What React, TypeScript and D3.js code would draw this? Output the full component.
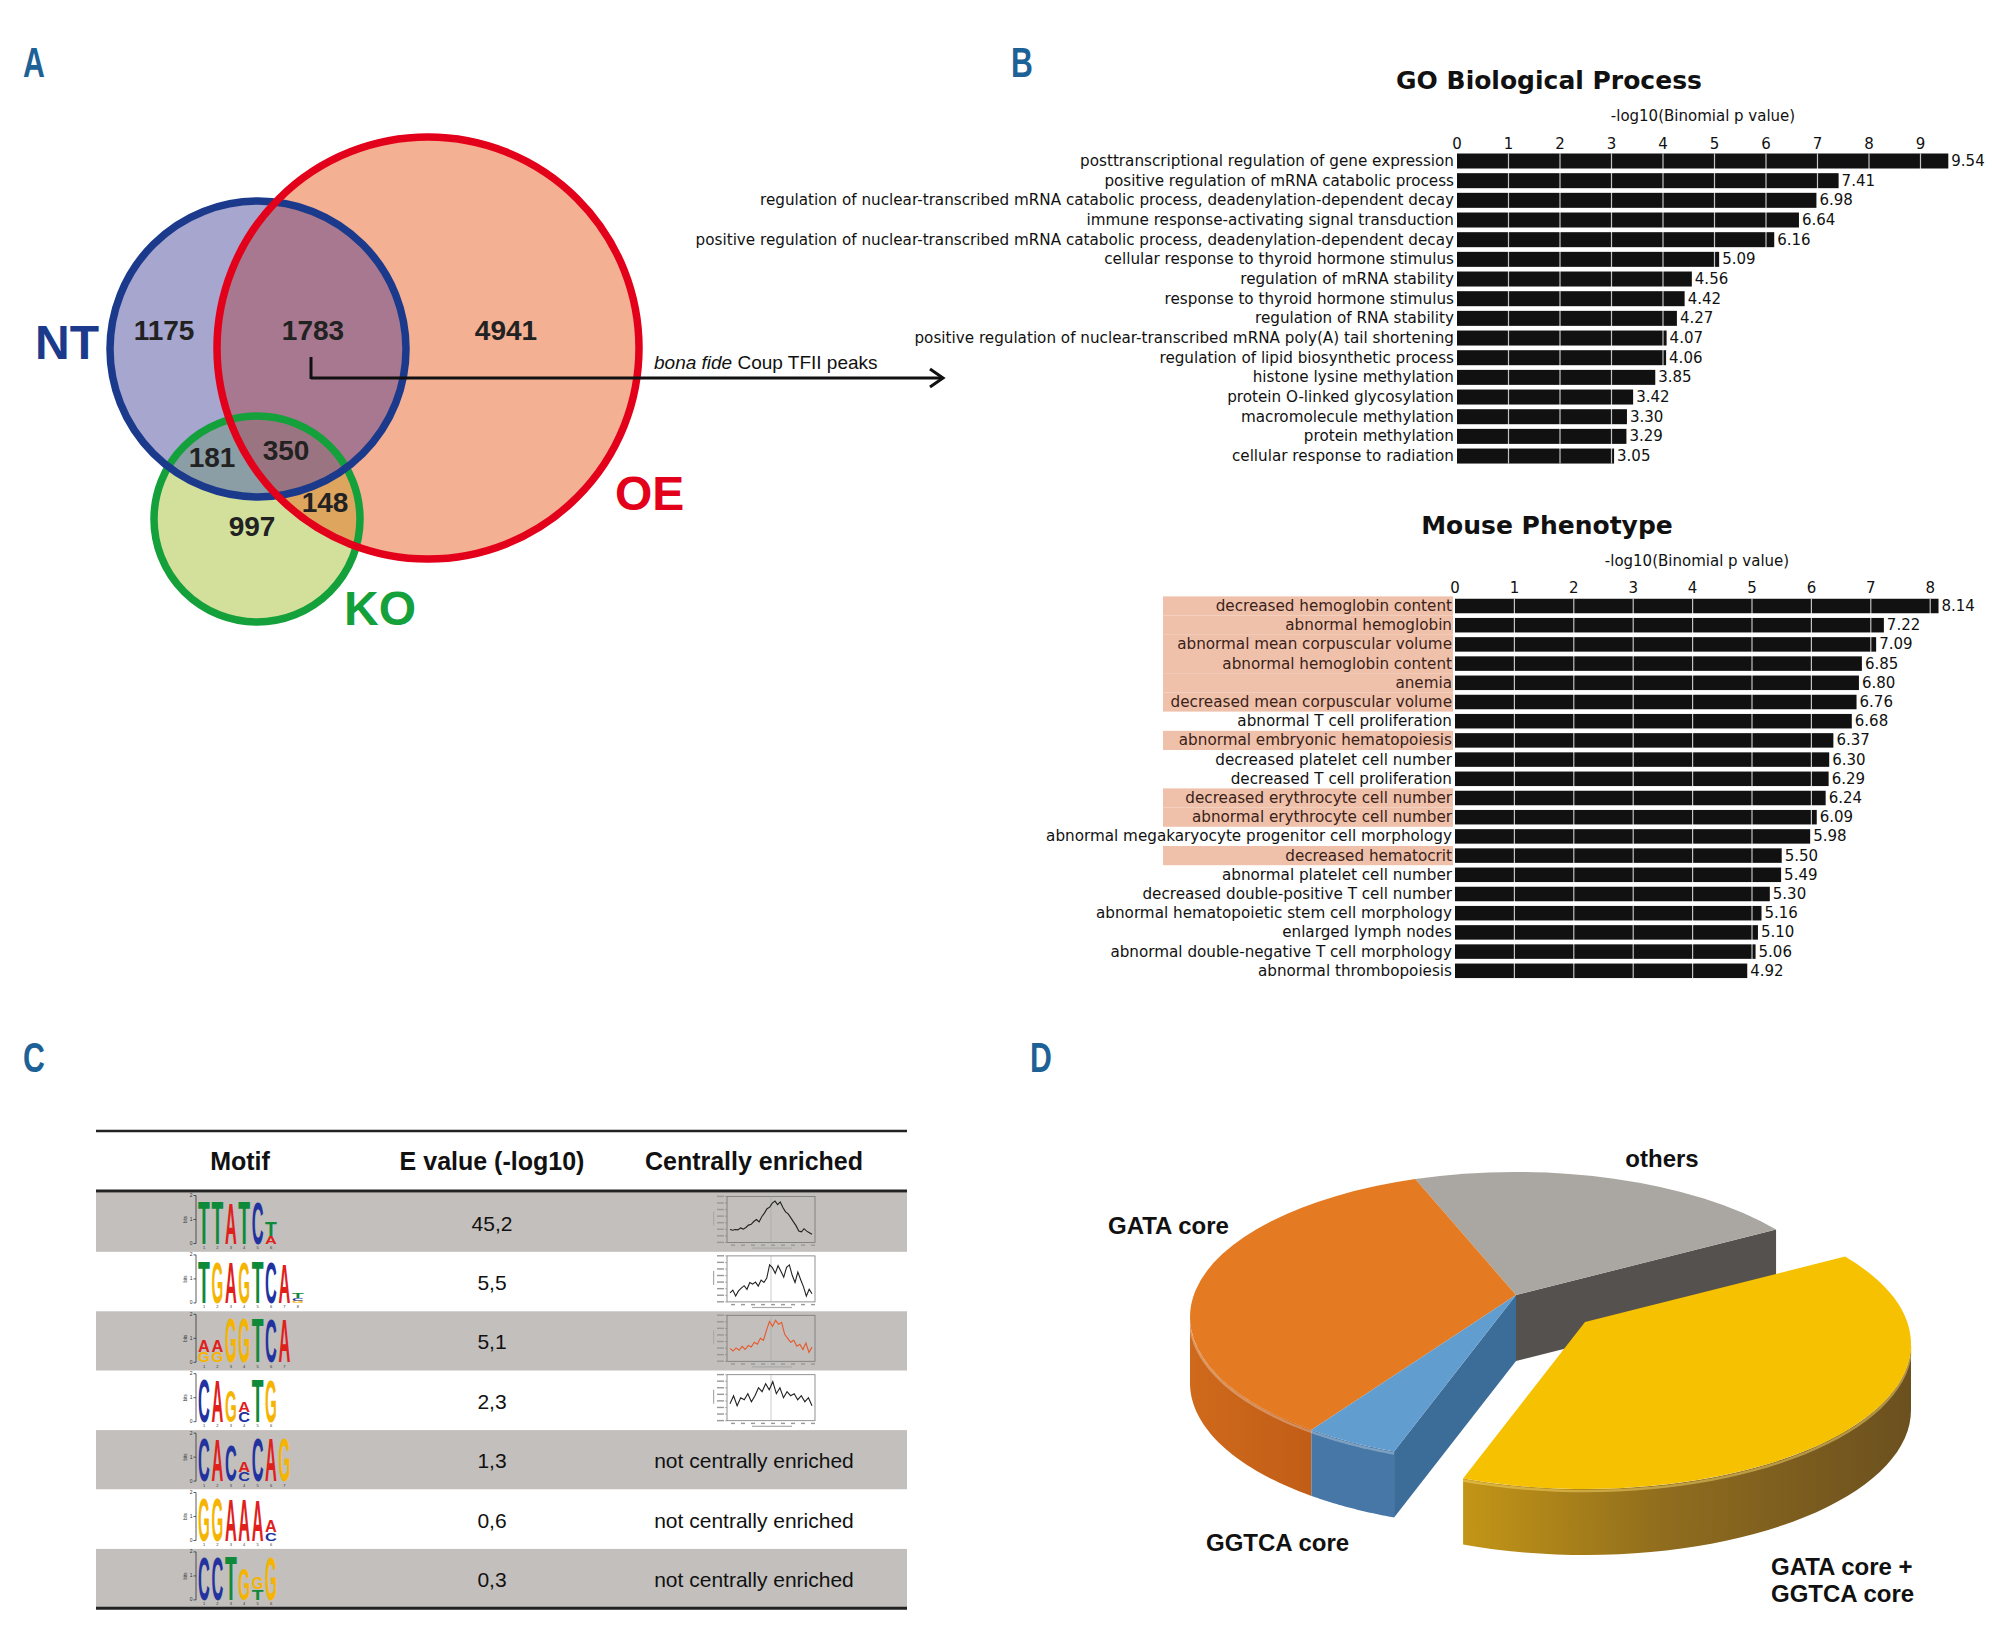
import { useEffect } from 'react'
import * as d3 from 'd3'

// ---------- panel A : Venn ----------
const vennNames = ['NT', 'OE', 'KO']
const vennColors = ['#1b3a8c', '#e3001b', '#14a03a']
// NT only, NT∩OE, OE only, NT∩KO, NT∩OE∩KO, OE∩KO, KO only
const vennCounts = [1175, 1783, 4941, 181, 350, 148, 997]

// ---------- panel B : GREAT enrichment ----------
const goTerms = [
  'posttranscriptional regulation of gene expression',
  'positive regulation of mRNA catabolic process',
  'regulation of nuclear-transcribed mRNA catabolic process, deadenylation-dependent decay',
  'immune response-activating signal transduction',
  'positive regulation of nuclear-transcribed mRNA catabolic process, deadenylation-dependent decay',
  'cellular response to thyroid hormone stimulus',
  'regulation of mRNA stability',
  'response to thyroid hormone stimulus',
  'regulation of RNA stability',
  'positive regulation of nuclear-transcribed mRNA poly(A) tail shortening',
  'regulation of lipid biosynthetic process',
  'histone lysine methylation',
  'protein O-linked glycosylation',
  'macromolecule methylation',
  'protein methylation',
  'cellular response to radiation',
]
const goValues = [9.54, 7.41, 6.98, 6.64, 6.16, 5.09, 4.56, 4.42, 4.27, 4.07, 4.06, 3.85, 3.42, 3.3, 3.29, 3.05]
const goTicks = [0, 1, 2, 3, 4, 5, 6, 7, 8, 9]

const mpTerms = [
  'decreased hemoglobin content',
  'abnormal hemoglobin',
  'abnormal mean corpuscular volume',
  'abnormal hemoglobin content',
  'anemia',
  'decreased mean corpuscular volume',
  'abnormal T cell proliferation',
  'abnormal embryonic hematopoiesis',
  'decreased platelet cell number',
  'decreased T cell proliferation',
  'decreased erythrocyte cell number',
  'abnormal erythrocyte cell number',
  'abnormal megakaryocyte progenitor cell morphology',
  'decreased hematocrit',
  'abnormal platelet cell number',
  'decreased double-positive T cell number',
  'abnormal hematopoietic stem cell morphology',
  'enlarged lymph nodes',
  'abnormal double-negative T cell morphology',
  'abnormal thrombopoiesis',
]
const mpValues = [8.14, 7.22, 7.09, 6.85, 6.8, 6.76, 6.68, 6.37, 6.3, 6.29, 6.24, 6.09, 5.98, 5.5, 5.49, 5.3, 5.16, 5.1, 5.06, 4.92]
const mpTicks = [0, 1, 2, 3, 4, 5, 6, 7, 8]
const mpHighlighted = [0, 1, 2, 3, 4, 5, 7, 10, 11, 13]

// ---------- panel C : motif table ----------
const tableHeaders = ['Motif', 'E value (-log10)', 'Centrally enriched']
// each position: stack bottom -> top, [letter, bits]
const motifLogos: Array<Array<Array<[string, number]>>> = [
  [[['T', 1.8]], [['T', 1.8]], [['A', 1.72]], [['T', 1.8]], [['C', 1.76]], [['A', 0.32], ['T', 0.62]]],
  [[['T', 1.78]], [['G', 1.7]], [['A', 1.72]], [['G', 1.72]], [['T', 1.78]], [['C', 1.7]], [['A', 1.68]], [['G', 0.1], ['C', 0.1], ['T', 0.22]]],
  [[['G', 0.44], ['A', 0.52]], [['G', 0.44], ['A', 0.52]], [['G', 1.85]], [['G', 1.85]], [['T', 1.85]], [['C', 1.8]], [['A', 1.8]]],
  [[['C', 1.8]], [['A', 1.75]], [['G', 1.35]], [['C', 0.42], ['A', 0.45]], [['T', 1.8]], [['G', 1.75]]],
  [[['C', 1.8]], [['A', 1.75]], [['C', 1.5]], [['C', 0.4], ['A', 0.42]], [['C', 1.8]], [['A', 1.8]], [['G', 1.8]]],
  [[['G', 1.8]], [['G', 1.8]], [['A', 1.75]], [['A', 1.75]], [['A', 1.7]], [['C', 0.35], ['A', 0.5]]],
  [[['C', 1.8]], [['C', 1.8]], [['T', 1.85]], [['G', 1.3]], [['T', 0.45], ['G', 0.5]], [['G', 1.8]]],
]
const eValues = ['45,2', '5,5', '5,1', '2,3', '1,3', '0,6', '0,3']
// site distribution profiles (relative probability) for centrally enriched motifs
const centralProfiles: Array<number[] | null> = [
  [0.25, 0.23, 0.25, 0.24, 0.29, 0.26, 0.3, 0.36, 0.38, 0.45, 0.5, 0.44, 0.57, 0.66, 0.77, 0.81, 0.91, 0.96, 0.87, 0.94, 0.8, 0.69, 0.64, 0.54, 0.44, 0.34, 0.21, 0.19, 0.27, 0.21, 0.17, 0.13],
  [0.15, 0.22, 0.07, 0.2, 0.27, 0.33, 0.24, 0.41, 0.37, 0.42, 0.32, 0.47, 0.41, 0.52, 0.85, 0.78, 0.64, 0.83, 0.69, 0.54, 0.79, 0.85, 0.59, 0.41, 0.67, 0.48, 0.3, 0.07, 0.24, 0.13],
  [0.25, 0.18, 0.26, 0.2, 0.3, 0.22, 0.32, 0.28, 0.4, 0.35, 0.5, 0.45, 0.7, 0.92, 0.8, 0.95, 0.85, 0.9, 0.6, 0.5, 0.4, 0.45, 0.3, 0.35, 0.22, 0.38, 0.15, 0.28],
  [0.35, 0.55, 0.3, 0.5, 0.45, 0.6, 0.4, 0.55, 0.75, 0.65, 0.85, 0.7, 0.9, 0.6, 0.75, 0.5, 0.65, 0.55, 0.6, 0.45, 0.55, 0.4, 0.5, 0.3],
  null,
  null,
  null,
]
const profileColors = ['#222', '#222', '#e8582a', '#222']
const letterColors: Record<string, string> = { A: '#e0201b', C: '#2233a0', G: '#f5b400', T: '#0e8a3a' }
const letterAdvance: Record<string, number> = { A: 0.722, C: 0.722, G: 0.778, T: 0.611 }

// ---------- panel D : 3D pie ----------
const pieLabels = ['others', 'GATA core + GGTCA core', 'GGTCA core', 'GATA core']
const pieShares = [19.7, 41.4, 4.7, 34.2]

const SANS = '"Liberation Sans", Arial, Helvetica, sans-serif'
const DEJAVU = '"DejaVu Sans", Verdana, sans-serif'

function Venn() {
  const nt = { cx: 258, cy: 349, r: 148 }
  const oe = { cx: 428, cy: 348, r: 211 }
  const ko = { cx: 257, cy: 519, r: 103 }
  const numPos = [
    [164, 340], [313, 340], [506, 340], [212, 467], [286, 460], [325, 512], [252, 536],
  ]
  return (
    <g>
      <defs>
        <clipPath id="clipNT"><circle cx={nt.cx} cy={nt.cy} r={nt.r} /></clipPath>
        <clipPath id="clipOE"><circle cx={oe.cx} cy={oe.cy} r={oe.r} /></clipPath>
      </defs>
      <circle cx={oe.cx} cy={oe.cy} r={oe.r} fill="#f4b093" />
      <circle cx={nt.cx} cy={nt.cy} r={nt.r} fill="#a6a6cf" />
      <circle cx={ko.cx} cy={ko.cy} r={ko.r} fill="#d3e09b" />
      <circle cx={nt.cx} cy={nt.cy} r={nt.r} fill="#a7788f" clipPath="url(#clipOE)" />
      <circle cx={ko.cx} cy={ko.cy} r={ko.r} fill="#8b9ea5" clipPath="url(#clipNT)" />
      <circle cx={ko.cx} cy={ko.cy} r={ko.r} fill="#dea55f" clipPath="url(#clipOE)" />
      <g clipPath="url(#clipOE)">
        <circle cx={ko.cx} cy={ko.cy} r={ko.r} fill="#9a7581" clipPath="url(#clipNT)" />
      </g>
      <circle cx={ko.cx} cy={ko.cy} r={ko.r} fill="none" stroke={vennColors[2]} strokeWidth={7.5} />
      <circle cx={nt.cx} cy={nt.cy} r={nt.r} fill="none" stroke={vennColors[0]} strokeWidth={7.5} />
      <circle cx={oe.cx} cy={oe.cy} r={oe.r} fill="none" stroke={vennColors[1]} strokeWidth={7.5} />
      {vennCounts.map((c, i) => (
        <text key={i} x={numPos[i][0]} y={numPos[i][1]} textAnchor="middle" fontFamily={SANS}
          fontWeight="bold" fontSize={28} fill="#222">{c}</text>
      ))}
      <text x={35} y={359} fontFamily={SANS} fontWeight="bold" fontSize={48} fill={vennColors[0]}>{vennNames[0]}</text>
      <text x={615} y={510} fontFamily={SANS} fontWeight="bold" fontSize={48} fill={vennColors[1]}>{vennNames[1]}</text>
      <text x={344} y={625} fontFamily={SANS} fontWeight="bold" fontSize={48} fill={vennColors[2]}>{vennNames[2]}</text>
      {/* arrow to bona fide peaks */}
      <line x1={311} y1={357} x2={311} y2={379} stroke="#111" strokeWidth={3} />
      <line x1={311} y1={378} x2={942} y2={378} stroke="#111" strokeWidth={3} />
      <polyline points="930,369 943,378 930,387" fill="none" stroke="#111" strokeWidth={3} />
      <text x={654} y={369} fontFamily={SANS} fontSize={19} fill="#111">
        <tspan fontStyle="italic">bona fide</tspan> Coup TFII peaks
      </text>
    </g>
  )
}

function BarPanel({ title, terms, values, ticks, x0, unit, firstCenter, step, barH, titleY, axisX, axisY, tickY, highlighted }: {
  title: string; terms: string[]; values: number[]; ticks: number[]; x0: number; unit: number;
  firstCenter: number; step: number; barH: number; titleY: number; axisX: number; axisY: number; tickY: number; highlighted: number[]
}) {
  const n = terms.length
  const pad = 1 - barH / step
  const y = d3.scaleBand<number>().domain(d3.range(n)).range([firstCenter - step / 2, firstCenter - step / 2 + n * step])
    .paddingInner(pad).paddingOuter(pad / 2)
  const maxT = ticks[ticks.length - 1] + 1
  const x = d3.scaleLinear().domain([0, maxT]).range([x0, x0 + maxT * unit])
  const top = y(0)!
  const bottom = y(n - 1)! + y.bandwidth()
  return (
    <g fontFamily={DEJAVU}>
      <text x={x0 + 92} y={titleY} textAnchor="middle" fontWeight="bold" fontSize={25} fill="#111">{title}</text>
      <text x={axisX} y={axisY} textAnchor="middle" fontSize={15} fill="#111">-log10(Binomial p value)</text>
      {ticks.map((t) => (
        <text key={t} x={x(t)} y={tickY} textAnchor="middle" fontSize={15} fill="#111">{t}</text>
      ))}
      {highlighted.map((i) => (
        <rect key={'h' + i} x={1163} y={y(i)! - (y.step() - y.bandwidth()) / 2} width={x0 - 1163 - 2} height={y.step()} fill="#efc1ab" />
      ))}
      {terms.map((t, i) => (
        <text key={'l' + i} x={x0 - 3} y={y(i)! + y.bandwidth() / 2 + 5} textAnchor="end" fontSize={15.2}
          fill={highlighted.includes(i) ? '#3a2218' : '#111'}>{t}</text>
      ))}
      {values.map((v, i) => (
        <rect key={'b' + i} x={x0} y={y(i)!} width={x(v) - x0} height={y.bandwidth()} fill="#111" />
      ))}
      {ticks.slice(1).map((t) => (
        <line key={'g' + t} x1={x(t)} x2={x(t)} y1={top} y2={bottom} stroke="#ffffff" strokeOpacity={0.75} strokeWidth={1.2} />
      ))}
      {values.map((v, i) => (
        <text key={'v' + i} x={x(v) + 3} y={y(i)! + y.bandwidth() / 2 + 5} fontSize={15} fill="#111">{v.toFixed(2)}</text>
      ))}
    </g>
  )
}

function Logo({ positions, top }: { positions: Array<Array<[string, number]>>; top: number }) {
  const bit = 24
  const base = top + 48
  const x0 = 204
  const dx = 13.4
  const w = 11.8
  return (
    <g>
      <line x1={196} x2={196} y1={top} y2={base} stroke="#333" strokeWidth={0.8} />
      {[0, 1, 2].map((b) => (
        <g key={b}>
          <line x1={193.5} x2={196} y1={base - b * bit} y2={base - b * bit} stroke="#333" strokeWidth={0.8} />
          <text x={192.5} y={base - b * bit + 1.5} textAnchor="end" fontSize={5} fontFamily={SANS} fill="#333">{b}</text>
        </g>
      ))}
      <text transform={`translate(187,${top + 24}) rotate(-90)`} textAnchor="middle" fontSize={4.5} fontFamily={SANS} fill="#333">bits</text>
      {positions.map((stack, j) => {
        let yb = base
        const cx = x0 + j * dx
        return (
          <g key={j}>
            {stack.map(([l, h], k) => {
              const hh = h * bit
              const el = (
                <text key={k} transform={`translate(${cx},${yb}) scale(${w / (letterAdvance[l] * 100)},${hh / 71.6})`}
                  textAnchor="middle" fontSize={100} fontFamily={SANS} fontWeight="bold" fill={letterColors[l]}>{l}</text>
              )
              yb -= hh
              return el
            })}
            <text x={cx} y={base + 5.5} textAnchor="middle" fontSize={4} fontFamily={SANS} fill="#333">{j + 1}</text>
          </g>
        )
      })}
    </g>
  )
}

function Profile({ values, top, color }: { values: number[]; top: number; color: string }) {
  const left = 727
  const right = 815
  const y0 = top + 4
  const y1 = top + 50
  const x = d3.scaleLinear().domain([0, values.length - 1]).range([left + 3, right - 3])
  const y = d3.scaleLinear().domain([0, 1]).range([y1 - 3, y0 + 3])
  const line = d3.line<number>().x((_, i) => x(i)).y((d) => y(d))
  const yt = d3.range(8)
  return (
    <g>
      <rect x={left} y={y0} width={right - left} height={y1 - y0} fill="none" stroke="#777" strokeWidth={0.8} />
      <line x1={(left + right) / 2} x2={(left + right) / 2} y1={y0} y2={y1} stroke="#aaa" strokeWidth={0.6} />
      {yt.map((k) => (
        <g key={k}>
          <line x1={left - 2} x2={left} y1={y0 + k * (y1 - y0) / 7} y2={y0 + k * (y1 - y0) / 7} stroke="#777" strokeWidth={0.5} />
          <rect x={left - 10} y={y0 + k * (y1 - y0) / 7 - 0.8} width={7} height={1.4} fill="#999" />
        </g>
      ))}
      {d3.range(9).map((k) => (
        <rect key={'x' + k} x={left + 4 + k * 10} y={y1 + 2} width={4} height={1.4} fill="#999" />
      ))}
      <rect x={left + 25} y={y1 + 5} width={40} height={1.2} fill="#aaa" />
      <rect x={left - 14} y={y0 + 15} width={1.2} height={14} fill="#aaa" />
      <path d={line(values) || ''} fill="none" stroke={color} strokeWidth={1.1} />
    </g>
  )
}

function MotifTable() {
  const left = 96
  const right = 907
  const headTop = 1131
  const headBottom = 1191
  const rowH = 59.4
  const colX = [240, 492, 754]
  return (
    <g>
      {eValues.map((_, i) => (
        <rect key={i} x={left} y={headBottom + 1.5 + i * rowH} width={right - left} height={rowH}
          fill={i % 2 === 0 ? '#c2bfbc' : '#ffffff'} />
      ))}
      <line x1={left} x2={right} y1={headTop} y2={headTop} stroke="#222" strokeWidth={2.5} />
      <line x1={left} x2={right} y1={headBottom} y2={headBottom} stroke="#222" strokeWidth={3} />
      <line x1={left} x2={right} y1={headBottom + 1.5 + 7 * rowH} y2={headBottom + 1.5 + 7 * rowH} stroke="#222" strokeWidth={3} />
      {tableHeaders.map((h, i) => (
        <text key={h} x={colX[i]} y={1170} textAnchor="middle" fontFamily={SANS} fontWeight="bold" fontSize={25} fill="#111">{h}</text>
      ))}
      {eValues.map((e, i) => {
        const top = headBottom + 1.5 + i * rowH
        const prof = centralProfiles[i]
        return (
          <g key={'r' + i}>
            <Logo positions={motifLogos[i]} top={top + 3} />
            <text x={colX[1]} y={top + 38} textAnchor="middle" fontFamily={SANS} fontSize={21} fill="#111">{e}</text>
            {prof ? (
              <Profile values={prof} top={top} color={profileColors[i]} />
            ) : (
              <text x={colX[2]} y={top + 38} textAnchor="middle" fontFamily={SANS} fontSize={21} fill="#111">not centrally enriched</text>
            )}
          </g>
        )
      })}
    </g>
  )
}

function Pie3D() {
  const cx = 1516
  const cy = 1317
  const rx = 326
  const ry = 145
  const apexDy = -22
  const depth = 66
  const explode = [0, 1, 0, 0]
  const exOff = [69, 27]
  const arcs = d3.pie<number>().sort(null).startAngle((342 * Math.PI) / 180).endAngle((702 * Math.PI) / 180)(pieShares)
  const rim = (a: number, ox: number, oy: number): [number, number] => [cx + rx * Math.sin(a) + ox, cy - ry * Math.cos(a) + oy]
  const apex = (ox: number, oy: number): [number, number] => [cx + ox, cy + apexDy + oy]
  const topPath = (a0: number, a1: number, ox: number, oy: number) => {
    const p = apex(ox, oy)
    const s = rim(a0, ox, oy)
    const e = rim(a1, ox, oy)
    return `M${p[0]},${p[1]}L${s[0]},${s[1]}A${rx},${ry} 0 ${a1 - a0 > Math.PI ? 1 : 0} 1 ${e[0]},${e[1]}Z`
  }
  const frontRanges = (a0: number, a1: number) => {
    const out: Array<[number, number]> = []
    for (let k = -1; k <= 2; k++) {
      const lo = Math.max(a0, Math.PI / 2 + 2 * Math.PI * k)
      const hi = Math.min(a1, (3 * Math.PI) / 2 + 2 * Math.PI * k)
      if (hi - lo > 0.001) out.push([lo, hi])
    }
    return out
  }
  const wallPath = (a0: number, a1: number, ox: number, oy: number) =>
    frontRanges(a0, a1).map(([lo, hi]) => {
      const steps = d3.range(0, 41).map((i) => lo + ((hi - lo) * i) / 40)
      const topPts = steps.map((a) => rim(a, ox, oy))
      const botPts = steps.slice().reverse().map((a) => { const r = rim(a, ox, oy); return [r[0], r[1] + depth] })
      return 'M' + [...topPts, ...botPts].map((p) => p.join(',')).join('L') + 'Z'
    }).join('')
  const rimLine = (a0: number, a1: number, ox: number, oy: number) =>
    frontRanges(a0, a1).map(([lo, hi]) => {
      const steps = d3.range(0, 41).map((i) => lo + ((hi - lo) * i) / 40)
      return 'M' + steps.map((a) => rim(a, ox, oy + 2).join(',')).join('L')
    }).join('')
  const facePath = (a: number, ox: number, oy: number) => {
    const p = apex(ox, oy)
    const r = rim(a, ox, oy)
    return `M${p[0]},${p[1]}L${r[0]},${r[1]}L${r[0]},${r[1] + depth}L${p[0]},${p[1] + depth}Z`
  }
  const topColors = ['#aaa6a2', '#f6c100', '#629dd0', '#e47a22']
  const wallFills = ['#77736f', 'url(#yWall)', '#4677a6', 'url(#oWall)']
  const [gray, yellow, blue, orange] = arcs
  const off = (i: number): [number, number] => [exOff[0] * explode[i], exOff[1] * explode[i]]
  return (
    <g>
      <defs>
        <linearGradient id="yWall" gradientUnits="userSpaceOnUse" x1={1460} x2={1920} y1={0} y2={0}>
          <stop offset="0" stopColor="#c49616" />
          <stop offset="0.45" stopColor="#8f6c1e" />
          <stop offset="1" stopColor="#6a4f1f" />
        </linearGradient>
        <linearGradient id="oWall" gradientUnits="userSpaceOnUse" x1={1190} x2={1320} y1={0} y2={0}>
          <stop offset="0" stopColor="#cf6a1c" />
          <stop offset="1" stopColor="#c05c16" />
        </linearGradient>
      </defs>
      {/* exposed radial faces */}
      <path d={facePath(gray.endAngle, 0, 0)} fill="#55514e" />
      <path d={facePath(blue.startAngle, 0, 0)} fill="#3c6c98" />
      {[orange, blue].map((a) => (
        <path key={'w' + a.index} d={wallPath(a.startAngle, a.endAngle, 0, 0)} fill={wallFills[a.index]} />
      ))}
      {[orange, blue].map((a) => (
        <path key={'r' + a.index} d={rimLine(a.startAngle, a.endAngle, 0, 0)} fill="none" stroke="#ffffff" strokeOpacity={0.3} strokeWidth={2.5} />
      ))}
      {[gray, orange, blue].map((a) => (
        <path key={'t' + a.index} d={topPath(a.startAngle, a.endAngle, 0, 0)} fill={topColors[a.index]} />
      ))}
      {[yellow].map((a) => (
        <g key={'y' + a.index}>
          <path d={wallPath(a.startAngle, a.endAngle, ...off(a.index))} fill={wallFills[a.index]} />
          <path d={rimLine(a.startAngle, a.endAngle, ...off(a.index))} fill="none" stroke="#ffe070" strokeOpacity={0.45} strokeWidth={2.5} />
          <path d={topPath(a.startAngle, a.endAngle, ...off(a.index))} fill={topColors[a.index]} />
        </g>
      ))}
      <g fontFamily={SANS} fontWeight="bold" fontSize={24} fill="#111">
        <text x={1662} y={1167} textAnchor="middle">{pieLabels[0]}</text>
        <text x={1771} y={1575}>GATA core +</text>
        <text x={1771} y={1602}>GGTCA core</text>
        <text x={1206} y={1551}>{pieLabels[2]}</text>
        <text x={1108} y={1234}>{pieLabels[3]}</text>
      </g>
    </g>
  )
}

export default function App() {
  useEffect(() => {
    document.body.style.margin = '0'
  }, [])
  const letters: Array<[string, number, number]> = [['A', 23, 77], ['B', 1011, 77], ['C', 23, 1072], ['D', 1030, 1072]]
  return (
    <svg width={2000} height={1629} viewBox="0 0 2000 1629" style={{ display: 'block', background: '#fff' }}>
      <rect width={2000} height={1629} fill="#fff" />
      {letters.map(([l, x, y]) => (
        <text key={l} transform={`translate(${x},${y}) scale(0.72,1)`} fontFamily={SANS} fontWeight="bold" fontSize={42} fill="#1d6196">{l}</text>
      ))}
      <Venn />
      <BarPanel title="GO Biological Process" terms={goTerms} values={goValues} ticks={goTicks} x0={1457} unit={51.5}
        firstCenter={161} step={19.67} barH={15} titleY={89} axisX={1703} axisY={121} tickY={149} highlighted={[]} />
      <BarPanel title="Mouse Phenotype" terms={mpTerms} values={mpValues} ticks={mpTicks} x0={1455} unit={59.4}
        firstCenter={606} step={19.2} barH={14.5} titleY={534} axisX={1697} axisY={566} tickY={593} highlighted={mpHighlighted} />
      <MotifTable />
      <Pie3D />
    </svg>
  )
}
